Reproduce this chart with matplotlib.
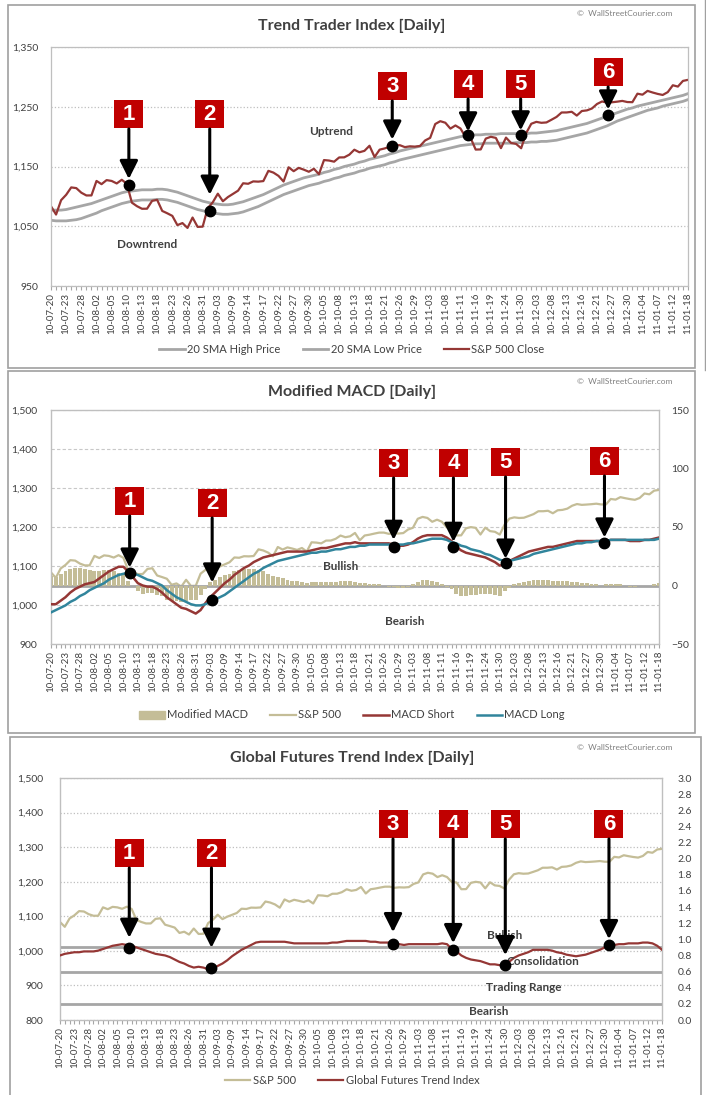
import numpy as np
import pandas as pd
import matplotlib
matplotlib.use('Agg')
import matplotlib.pyplot as plt
from matplotlib.patches import Rectangle, FancyArrowPatch, Patch
from matplotlib.lines import Line2D
from matplotlib.transforms import IdentityTransform
from matplotlib.ticker import FuncFormatter, MultipleLocator

plt.rcParams['font.family'] = ['Lato', 'DejaVu Sans']

W, H = 706, 1095

# NYSE trading days for the period (closed on these days)
market_holidays = ['2010-09-06', '2010-11-25', '2010-12-24', '2011-01-17']
days = pd.bdate_range('2010-07-20', '2011-01-18', freq='C', holidays=market_holidays)
day_labels = list(days.strftime('%y-%m-%d'))

sp500_close = [
    1083.48, 1069.59, 1093.67, 1102.66, 1115.01, 1113.84, 1106.13, 1101.53, 1101.60, 1125.86,
    1120.46, 1127.24, 1125.81, 1121.64, 1127.79, 1121.06, 1089.47, 1083.61, 1079.25, 1079.38,
    1092.54, 1094.16, 1075.63, 1071.69, 1067.36, 1051.87, 1055.33, 1047.22, 1064.59, 1048.92,
    1049.33, 1080.29, 1090.10, 1104.51, 1091.84, 1098.87, 1104.18, 1109.55, 1121.90, 1121.10,
    1125.07, 1124.66, 1125.59, 1142.71, 1139.78, 1134.28, 1124.83, 1148.67, 1142.16, 1147.70,
    1144.73, 1141.20, 1146.24, 1137.03, 1160.75, 1159.97, 1158.06, 1165.15, 1165.32, 1169.77,
    1178.10, 1173.81, 1176.19, 1184.71, 1165.90, 1178.17, 1180.26, 1183.08, 1185.62, 1185.64,
    1182.45, 1183.78, 1183.26, 1184.38, 1193.57, 1197.96, 1221.06, 1225.85, 1223.25, 1213.40,
    1218.71, 1213.54, 1199.21, 1197.75, 1178.34, 1178.59, 1196.69, 1199.73, 1197.84, 1180.73,
    1198.35, 1189.40, 1187.76, 1180.55, 1206.07, 1221.53, 1224.71, 1223.12, 1223.75, 1228.28,
    1233.00, 1240.40, 1240.46, 1241.59, 1235.23, 1242.87, 1243.91, 1247.08, 1254.60, 1258.84,
    1256.77, 1257.54, 1258.51, 1259.78, 1257.88, 1257.64, 1271.87, 1270.20, 1276.56, 1273.85,
    1271.50, 1269.75, 1274.48, 1285.96, 1283.76, 1293.24, 1295.02]

sma20_high = [
    1077, 1077, 1077, 1078, 1080, 1082, 1084, 1086, 1088, 1091,
    1094, 1097, 1100, 1103, 1106, 1108, 1109, 1110, 1111, 1111,
    1111, 1112, 1112, 1111, 1109, 1107, 1104, 1101, 1098, 1095,
    1092, 1090, 1088, 1087, 1086, 1086, 1087, 1089, 1091, 1094,
    1097, 1100, 1103, 1107, 1111, 1115, 1119, 1122, 1125, 1128,
    1131, 1133, 1135, 1137, 1140, 1142, 1145, 1147, 1150, 1152,
    1154, 1157, 1159, 1162, 1164, 1166, 1168, 1171, 1173, 1176,
    1178, 1180, 1182, 1184, 1186, 1188, 1190, 1192, 1194, 1196,
    1198, 1200, 1201, 1202, 1203, 1203, 1204, 1204, 1204, 1205,
    1205, 1205, 1205, 1205, 1205, 1206, 1206, 1207, 1208, 1209,
    1210, 1212, 1214, 1216, 1218, 1220, 1222, 1225, 1228, 1231,
    1234, 1237, 1240, 1243, 1246, 1248, 1251, 1253, 1255, 1257,
    1259, 1261, 1263, 1265, 1267, 1269, 1272]

sma20_low = [
    1060, 1059, 1059, 1059, 1060, 1061, 1063, 1066, 1069, 1072,
    1076, 1079, 1082, 1085, 1088, 1090, 1092, 1093, 1094, 1094,
    1094, 1095, 1095, 1094, 1092, 1090, 1087, 1084, 1081, 1078,
    1076, 1074, 1072, 1071, 1070, 1070, 1071, 1072, 1074, 1077,
    1080, 1083, 1087, 1091, 1095, 1099, 1103, 1106, 1109, 1112,
    1115, 1118, 1120, 1122, 1125, 1127, 1130, 1132, 1135, 1137,
    1139, 1142, 1144, 1147, 1149, 1151, 1153, 1156, 1158, 1161,
    1163, 1165, 1167, 1169, 1171, 1173, 1175, 1177, 1179, 1181,
    1183, 1185, 1186, 1187, 1188, 1188, 1189, 1189, 1189, 1189,
    1189, 1189, 1190, 1190, 1190, 1191, 1191, 1192, 1192, 1193,
    1194, 1196, 1198, 1200, 1202, 1204, 1206, 1209, 1212, 1215,
    1218, 1222, 1226, 1229, 1232, 1235, 1238, 1241, 1244, 1246,
    1248, 1251, 1253, 1255, 1257, 1259, 1262]

macd_short = [
    -16, -16, -13, -10, -6, -3, -1, 1, 2, 3,
    6, 9, 12, 14, 16, 16, 12, 7, 2, 0,
    -1, -1, -3, -6, -10, -13, -16, -19, -20, -22,
    -24, -21, -15, -10, -6, -2, 2, 5, 9, 12,
    15, 17, 20, 22, 24, 25, 26, 27, 28, 29,
    29, 29, 29, 29, 30, 31, 32, 32, 33, 34,
    35, 36, 36, 37, 36, 36, 36, 36, 36, 36,
    36, 35, 34, 34, 35, 37, 40, 42, 43, 43,
    43, 43, 41, 38, 33, 30, 28, 27, 26, 25,
    24, 22, 20, 17, 18, 21, 23, 25, 27, 29,
    30, 31, 32, 33, 33, 34, 35, 36, 37, 38,
    38, 38, 38, 38, 38, 38, 39, 39, 39, 39,
    38, 38, 38, 39, 39, 40, 41]

macd_long = [
    -23, -21, -19, -17, -14, -12, -9, -7, -4, -2,
    0, 2, 5, 7, 9, 10, 11, 10, 9, 7,
    5, 4, 2, 0, -4, -7, -10, -12, -14, -16,
    -17, -17, -16, -14, -12, -10, -8, -5, -2, 1,
    4, 7, 10, 12, 15, 17, 19, 21, 22, 23,
    24, 25, 26, 27, 28, 28, 29, 29, 30, 31,
    31, 32, 33, 33, 34, 34, 35, 35, 35, 35,
    35, 35, 35, 35, 36, 36, 37, 38, 39, 40,
    40, 40, 39, 37, 36, 34, 33, 31, 30, 29,
    27, 26, 24, 22, 21, 21, 22, 23, 24, 25,
    27, 28, 29, 30, 31, 32, 33, 34, 35, 36,
    36, 37, 37, 38, 38, 38, 39, 39, 39, 39,
    39, 39, 39, 39, 39, 39, 40]

modified_macd = [
    8, 7, 10, 12, 14, 15, 15, 14, 13, 12,
    12, 13, 13, 12, 11, 10, 4, 0, -5, -7,
    -6, -6, -8, -9, -12, -13, -13, -14, -13, -12,
    -12, -8, -3, 3, 5, 7, 9, 10, 12, 13,
    14, 14, 14, 13, 12, 10, 8, 7, 6, 5,
    4, 4, 3, 2, 3, 3, 3, 3, 3, 3,
    4, 4, 4, 3, 2, 2, 1, 1, 1, 0,
    -1, -1, -2, -2, -1, 1, 3, 5, 5, 4,
    3, 1, -1, -3, -7, -9, -9, -8, -8, -7,
    -7, -7, -8, -9, -5, -2, 1, 2, 3, 4,
    5, 5, 5, 5, 4, 4, 4, 4, 3, 3,
    2, 2, 1, 1, 0, 1, 1, 1, 1, 0,
    -1, -1, 0, 0, 0, 1, 2]

gfti = [
    0.80, 0.82, 0.83, 0.84, 0.84, 0.85, 0.85, 0.85, 0.86, 0.88,
    0.90, 0.92, 0.93, 0.94, 0.93, 0.92, 0.90, 0.88, 0.86, 0.84,
    0.82, 0.81, 0.80, 0.78, 0.75, 0.72, 0.70, 0.67, 0.65, 0.66,
    0.65, 0.63, 0.64, 0.67, 0.70, 0.74, 0.79, 0.83, 0.87, 0.90,
    0.93, 0.96, 0.97, 0.97, 0.97, 0.97, 0.97, 0.97, 0.96, 0.95,
    0.95, 0.95, 0.95, 0.95, 0.95, 0.95, 0.95, 0.96, 0.96, 0.97,
    0.98, 0.98, 0.98, 0.98, 0.98, 0.97, 0.97, 0.96, 0.96, 0.96,
    0.95, 0.94, 0.93, 0.94, 0.94, 0.94, 0.94, 0.94, 0.94, 0.94,
    0.95, 0.94, 0.88, 0.85, 0.80, 0.77, 0.75, 0.74, 0.73, 0.71,
    0.69, 0.69, 0.68, 0.68, 0.72, 0.77, 0.80, 0.82, 0.84, 0.87,
    0.87, 0.87, 0.87, 0.86, 0.84, 0.83, 0.81, 0.80, 0.79, 0.80,
    0.81, 0.83, 0.85, 0.87, 0.90, 0.92, 0.93, 0.94, 0.94, 0.95,
    0.95, 0.95, 0.96, 0.96, 0.95, 0.92, 0.87]

gfti_levels = [0.9, 0.6, 0.2]

# numbered signals: (day position, level) for each panel
trend_sig_x = [15.4, 31.4, 67.5, 82.5, 92.9, 110.2]
trend_sig_y = [1119, 1076, 1185, 1202, 1202, 1237]
macd_sig_x = [16.3, 33.4, 71.0, 83.4, 94.2, 114.7]
macd_sig_y = [11, -12, 33, 33, 19.5, 36.7]
gfti_sig_x = [14.5, 31.7, 69.7, 82.3, 93.2, 114.9]
gfti_sig_y = [0.895, 0.647, 0.94, 0.866, 0.68, 0.928]

RED = '#953735'
GREY = '#a6a6a6'
TAN = '#c4bd97'
TEAL = '#31859c'
TXT = '#404040'

x = np.arange(len(day_labels))

fig = plt.figure(figsize=(W / 100, H / 100), dpi=100)
fig.patch.set_facecolor('white')


def px_axes(left, top, right, bottom):
    return fig.add_axes([left / W, 1 - bottom / H, (right - left) / W, (bottom - top) / H])


def frame(x0, y0, x1, y1):
    fig.add_artist(Rectangle((x0 / W, 1 - y1 / H), (x1 - x0) / W, (y1 - y0) / H,
                             transform=fig.transFigure, fill=False, ec='#a0a0a0', lw=1.2))


def header(title, ytitle, ymark):
    fig.text(352 / W, 1 - ytitle / H, title, ha='center', va='center', fontsize=11.5,
             fontweight='bold', color=TXT)
    fig.text(625 / W, 1 - ymark / H, '\u00a9  WallStreetCourier.com', ha='center', va='center',
             fontsize=6, color='#808080')


def style_axes(ax, pad_left):
    for s in ax.spines.values():
        s.set_color('#bfbfbf')
        s.set_linewidth(0.9)
    ax.set_xlim(0, len(day_labels) - 1)
    ax.set_xticks(x)
    ax.set_xticklabels([d if i % 3 == 0 else '' for i, d in enumerate(day_labels)])
    ax.tick_params(axis='x', length=3, color=GREY, labelsize=7, labelcolor=TXT,
                   rotation=90, pad=2)
    ax.tick_params(axis='y', length=0, labelsize=7.5, labelcolor=TXT, pad=pad_left)
    ax.yaxis.set_major_formatter(FuncFormatter(lambda v, p: f'{v:,.0f}'))


def signals(ax, xs, ys, box_tops, tip_gaps):
    for k, (sx, sy, top, gap) in enumerate(zip(xs, ys, box_tops, tip_gaps), start=1):
        ax.plot(sx, sy, 'o', color='black', ms=7.5, zorder=8, clip_on=False)
        px, py = ax.transData.transform((sx, sy))
        ytop = H - top
        fig.add_artist(Rectangle((px - 14.5, ytop - 28), 29, 28, transform=IdentityTransform(),
                                 fc='#c00000', ec='none', zorder=9))
        fig.text(px / W, (ytop - 14.5) / H, str(k), ha='center', va='center', color='white',
                 fontsize=16, fontweight='bold',
                 family=['Liberation Sans Narrow', 'Liberation Sans', 'DejaVu Sans'], zorder=10)
        fig.add_artist(FancyArrowPatch((px, ytop - 29), (px, py + gap),
                                       arrowstyle='-|>,head_length=1.1,head_width=0.55',
                                       mutation_scale=10, lw=2.2, color='black',
                                       shrinkA=0, shrinkB=0, transform=IdentityTransform(),
                                       zorder=9))


def legend(handles, labels, ycenter):
    fig.legend(handles, labels, loc='center', bbox_to_anchor=(352 / W, 1 - ycenter / H),
               ncol=len(labels), frameon=False, fontsize=8, handlelength=2.3,
               handletextpad=0.2, columnspacing=2.0, labelcolor=TXT)


# ---------------- Trend Trader Index ----------------
frame(8, 5, 695, 368)
fig.add_artist(Line2D([705 / W, 705 / W], [1, 1 - 370 / H], transform=fig.transFigure,
                      color='#a0a0a0', lw=1))
header('Trend Trader Index [Daily]', 26, 14)
ax1 = px_axes(51, 47, 688, 286)
style_axes(ax1, 9)
ax1.set_ylim(950, 1350)
ax1.set_yticks([950, 1050, 1150, 1250, 1350])
ax1.grid(axis='y', linestyle=':', color='#bfbfbf', lw=0.9)
ax1.set_axisbelow(True)
l1, = ax1.plot(x, sma20_high, color=GREY, lw=2)
l2, = ax1.plot(x, sma20_low, color=GREY, lw=2)
l3, = ax1.plot(x, sp500_close, color=RED, lw=1.6)
ax1.text(55.5, 1208, 'Uptrend', ha='center', va='center', fontsize=8.5, fontweight='bold', color=TXT)
ax1.text(19, 1020, 'Downtrend', ha='center', va='center', fontsize=8.5, fontweight='bold', color=TXT)
signals(ax1, trend_sig_x, trend_sig_y, [100, 100, 72, 70, 70, 58], [6, 16, 6, 4, 5, 5])
legend([l1, l2, l3], ['20 SMA High Price', '20 SMA Low Price', 'S&P 500 Close'], 349)

# ---------------- Modified MACD ----------------
frame(8, 371, 695, 733)
header('Modified MACD [Daily]', 392, 381)
ax2 = px_axes(51, 410, 659, 644)
style_axes(ax2, 10)
ax2.set_ylim(900, 1500)
ax2.yaxis.set_major_locator(MultipleLocator(100))
ax2.grid(axis='y', linestyle=(0, (3, 2)), color='#c8c8c8', lw=0.8)
ax2.set_axisbelow(True)
s2, = ax2.plot(x, sp500_close, color=TAN, lw=1.6)
ax2r = ax2.twinx()
ax2r.set_ylim(-50, 150)
ax2r.yaxis.set_major_locator(MultipleLocator(50))
ax2r.tick_params(axis='y', length=0, labelsize=7.5, labelcolor=TXT, pad=9)
for s in ax2r.spines.values():
    s.set_color('#bfbfbf')
ax2r.axhline(0, color=GREY, lw=2, zorder=1)
b2 = ax2r.bar(x, modified_macd, width=0.8, color=TAN, zorder=2)
m1, = ax2r.plot(x, macd_short, color=RED, lw=1.8, zorder=3)
m2, = ax2r.plot(x, macd_long, color=TEAL, lw=1.8, zorder=3)
ax2r.text(60, 16, 'Bullish', ha='center', va='center', fontsize=8.5, fontweight='bold', color=TXT)
ax2r.text(73.2, -31, 'Bearish', ha='center', va='center', fontsize=8.5, fontweight='bold', color=TXT)
signals(ax2r, macd_sig_x, macd_sig_y, [487, 489, 449, 449, 448, 447], [5, 17, 7, 5, 4, 5])
legend([Patch(color=TAN), s2, m1, m2], ['Modified MACD', 'S&P 500', 'MACD Short', 'MACD Long'], 715)

# ---------------- Global Futures Trend Index ----------------
frame(10, 737, 701, 1110)
header('Global Futures Trend Index [Daily]', 758, 747)
ax3 = px_axes(60, 778, 662, 1020)
style_axes(ax3, 12)
ax3.set_ylim(800, 1500)
ax3.yaxis.set_major_locator(MultipleLocator(100))
ax3.grid(axis='y', linestyle=':', color='#bfbfbf', lw=0.9)
ax3.set_axisbelow(True)
s3, = ax3.plot(x, sp500_close, color=TAN, lw=1.6)
ax3r = ax3.twinx()
ax3r.set_ylim(0, 3)
ax3r.yaxis.set_major_locator(MultipleLocator(0.2))
ax3r.yaxis.set_major_formatter(FuncFormatter(lambda v, p: f'{v:.1f}'))
ax3r.tick_params(axis='y', length=0, labelsize=7.5, labelcolor=TXT, pad=11)
for s in ax3r.spines.values():
    s.set_color('#bfbfbf')
for lv in gfti_levels:
    ax3r.axhline(lv, color=GREY, lw=2, zorder=1)
g1, = ax3r.plot(x, gfti, color=RED, lw=1.6, zorder=3)
for label, gx, gy in [('Bullish', 93, 1.045), ('Consolidation', 101, 0.72),
                      ('Trading Range', 97, 0.405), ('Bearish', 89.7, 0.10)]:
    ax3r.text(gx, gy, label, ha='center', va='center', fontsize=8.5, fontweight='bold',
              color=TXT, zorder=4)
signals(ax3r, gfti_sig_x, gfti_sig_y, [839, 839, 810, 810, 810, 810], [10, 20, 12, 7, 10, 6])
legend([s3, g1], ['S&P 500', 'Global Futures Trend Index'], 1080)

fig.savefig('out.png', dpi=100)
